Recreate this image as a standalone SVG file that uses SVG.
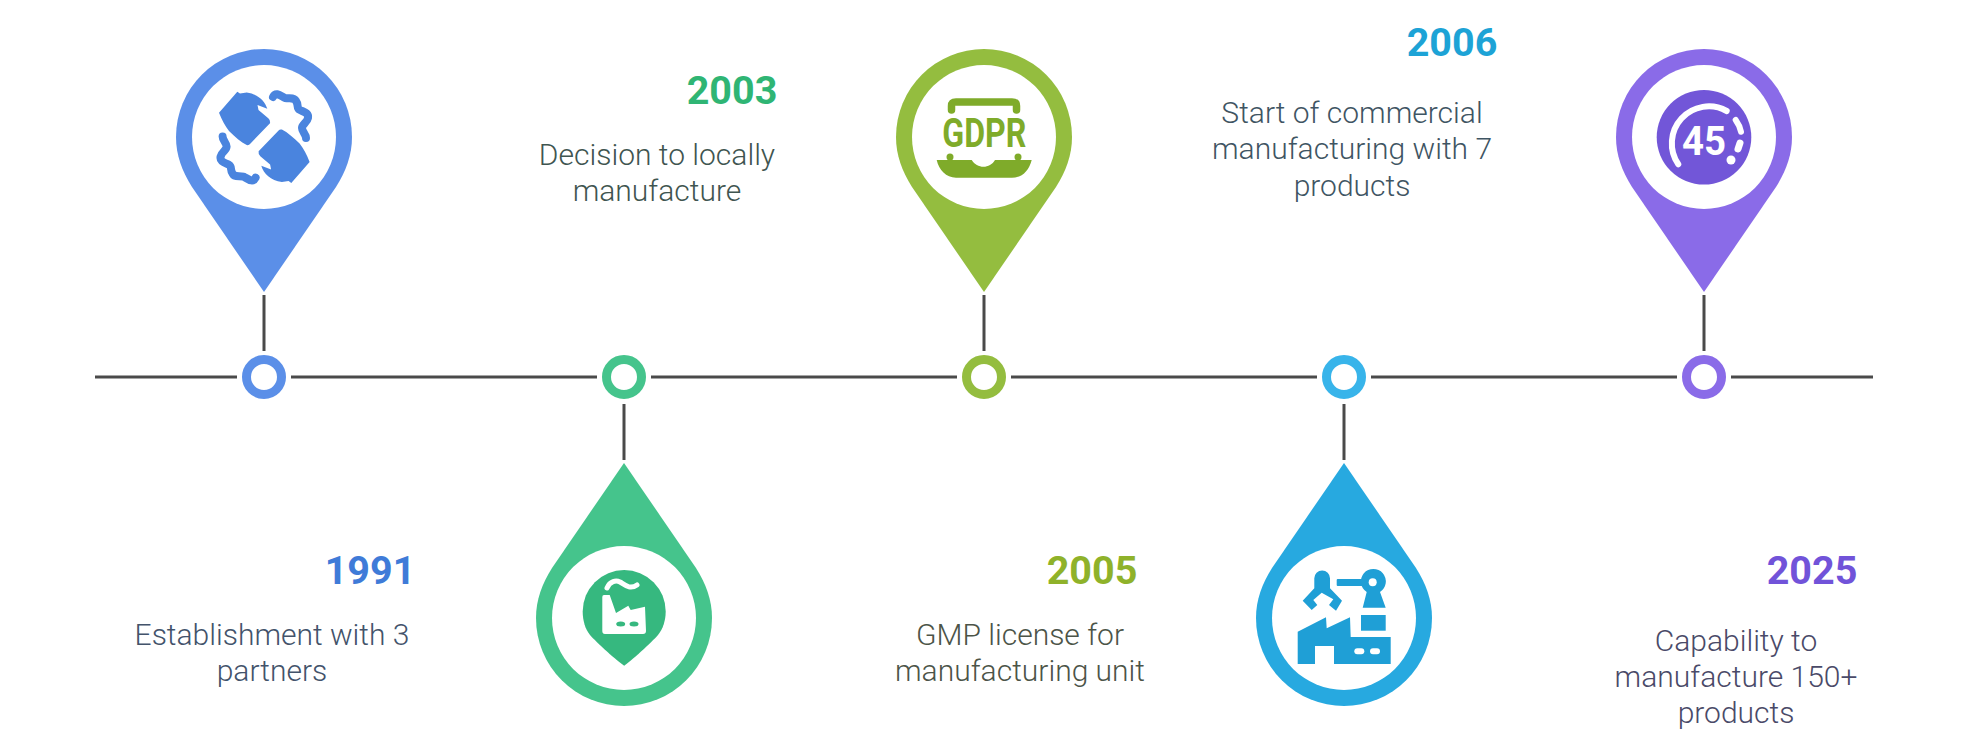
<svg xmlns="http://www.w3.org/2000/svg" width="1968" height="748" viewBox="0 0 1968 748">
<style>
.axis{stroke:#4a4a4a;stroke-width:3;fill:none}
.t{font-family:Roboto,"Liberation Sans",sans-serif;font-size:30px;font-weight:300;text-anchor:middle}
.y{font-family:Roboto,"Liberation Sans",sans-serif;font-size:39.5px;font-weight:700;text-anchor:middle}
.w{fill:#fff}
.i{font-family:Roboto,"Liberation Sans",sans-serif;font-weight:700;text-anchor:middle}
.dot{fill:#fff;stroke-width:9}
</style>
<defs>
<path id="pinUp" d="M0 155 L-72 50 C-82 34 -88 18 -88 0 A88 88 0 0 1 88 0 C88 18 82 34 72 50 Z"/>
<path id="pinDown" d="M0 -155 L-72 -50 C-82 -34 -88 -18 -88 0 A88 88 0 0 0 88 0 C88 -18 82 -34 72 -50 Z"/>
<g id="tw">
<path fill="#4a84de" d="M237.3 91.7 L219 112.7 C222 120 225 126 229 131 C235 137 241 142 246.7 145 Q249 145.5 250 144 L270 123.3 Q270.5 120 268.3 118.3 L258.5 110 L257.5 105 L267.3 108.8 C265 101 258 94 246.7 92.5 L240 93.5 Z"/>
<path fill="none" stroke="#4a84de" stroke-width="8" stroke-linecap="round" stroke-linejoin="round" d="M273 97 C276 91 281 96 285 98 C290 99 294 97 296 101 C299 105 296 108 300 110 C304 112 309 113 308 118 C307 123 302 124 302 128 C302 132 306 134 306 138"/>
</g>
</defs>
<rect width="1968" height="748" fill="#fff"/>
<g id="connectors" class="axis">
<path d="M95 377H237M291 377H597M651 377H957M1011 377H1317M1371 377H1677M1731 377H1873"/>
<path d="M264 295V351M984 295V351M1704 295V351M624 404V460M1344 404V460"/>
</g>
<g id="node-1991">
<use href="#pinUp" x="264" y="137" fill="#5b8fe8"/><circle cx="264" cy="137" r="72" class="w"/>
<use href="#tw"/><use href="#tw" transform="rotate(180 264.3 137.3)"/>
</g>
<g id="node-2003">
<use href="#pinDown" x="624" y="618" fill="#45c48c"/><circle cx="624" cy="618" r="72" class="w"/>
<path d="M624.2 665.7 C618 662 596 642 590 635 C585 629 582.7 620 582.7 611.5 A41.5 41.5 0 0 1 665.7 611.5 C665.7 620 663 629 658 635 C652 642 630 662 624.2 665.7Z" fill="#36b87f"/>
<path d="M602.3 597 Q602.3 595 604 595 H609.7 L616 613 L628.3 605.7 L630.7 610 L645 606.7 L646 631 Q646 634 643 634 H605 Q602.3 634 602.3 631 Z" class="w"/>
<path d="M607 588 C610 581 616 580 620 582 C625 585 630 590 637 585" fill="none" stroke="#fff" stroke-width="5" stroke-linecap="round"/>
<ellipse cx="620.7" cy="624" rx="4.5" ry="2.5" fill="#36b87f"/><ellipse cx="634" cy="624" rx="4.5" ry="2.5" fill="#36b87f"/>
</g>
<g id="node-2005">
<use href="#pinUp" x="984" y="137" fill="#94bd3f"/><circle cx="984" cy="137" r="72" class="w"/>
<path d="M951.5 110 V106 Q951.5 102 956 102 H1012 Q1016.5 102 1016.5 106 V110" fill="none" stroke="#7fab2a" stroke-width="7.5" stroke-linecap="round"/>
<text class="i" x="984.3" y="147" font-size="41" fill="#7fab2a" textLength="84" lengthAdjust="spacingAndGlyphs">GDPR</text>
<path d="M936.7 160 H971.7 C977 169 990 169 995 160 H1031.7 C1029 170 1023 177.7 1012 177.7 H956 C946 177.7 939 170 936.7 160 Z" fill="#7fab2a"/>
<circle cx="950" cy="157" r="3.5" fill="#7fab2a"/><circle cx="1018" cy="157" r="3.5" fill="#7fab2a"/>
</g>
<g id="node-2006">
<use href="#pinDown" x="1344" y="618" fill="#27a9e0"/><circle cx="1344" cy="618" r="72" class="w"/>
<g fill="#1f9fd6">
<path d="M1297.7 631.7 L1326 617.3 L1326.7 628.3 L1350 617.3 L1350.7 637 H1390.7 V664 H1334 V646 H1315 V664 H1297.7 Z"/>
<rect x="1361" y="615" width="24.7" height="15.7"/>
<rect x="1336.7" y="579" width="30" height="7" rx="1"/>
<path d="M1362.7 607.7 L1366.7 592 A12.5 12.5 0 1 1 1380 592 L1385.7 607.7 Z"/>
<path d="M1314.3 578.3 A7.85 7.85 0 0 1 1330 578.3 V588.3 L1342 600.7 L1336 610.7 L1329 605 L1333.3 599.3 L1321.7 592.7 L1313.3 600 L1317.3 605 L1311.7 610 L1302.7 600.7 L1314.3 588.3 Z"/>
</g>
<circle cx="1372.7" cy="582.3" r="4" class="w"/>
<rect x="1354.3" y="648.3" width="10" height="6" rx="3" class="w"/><rect x="1370" y="648.3" width="10" height="6" rx="3" class="w"/>
</g>
<g id="node-2025">
<use href="#pinUp" x="1704" y="137" fill="#8a6be8"/><circle cx="1704" cy="137" r="72" class="w"/>
<circle cx="1704" cy="137.3" r="47.3" fill="#7256d8"/>
<path d="M1678.3 164.3 A37 37 0 0 1 1726.7 111" fill="none" stroke="#fff" stroke-width="6" stroke-linecap="round"/>
<path d="M1735.7 120 Q1740 126 1741 131.7" fill="none" stroke="#fff" stroke-width="6" stroke-linecap="round"/>
<path d="M1740 143 L1738 149" fill="none" stroke="#fff" stroke-width="7" stroke-linecap="round"/>
<circle cx="1731" cy="160" r="4.5" class="w"/>
<text class="i" x="1704" y="155" font-size="41" fill="#fff" textLength="44" lengthAdjust="spacingAndGlyphs">45</text>
</g>
<g id="dot-1991"><circle class="dot" cx="264" cy="377" r="17.5" stroke="#5b8fe8"/></g>
<g id="dot-2003"><circle class="dot" cx="624" cy="377" r="17.5" stroke="#45c48c"/></g>
<g id="dot-2005"><circle class="dot" cx="984" cy="377" r="17.5" stroke="#94bd3f"/></g>
<g id="dot-2006"><circle class="dot" cx="1344" cy="377" r="17.5" stroke="#38b4ea"/></g>
<g id="dot-2025"><circle class="dot" cx="1704" cy="377" r="17.5" stroke="#8a6be8"/></g>
<g id="label-1991" fill="#43536b"><text class="y" x="370" y="584" fill="#3f7bd8">1991</text><text class="t" x="272" y="645">Establishment with 3</text><text class="t" x="272" y="681">partners</text></g>
<g id="label-2003" fill="#3f5550"><text class="y" x="732" y="104" fill="#2fb574">2003</text><text class="t" x="657" y="165">Decision to locally</text><text class="t" x="657" y="201">manufacture</text></g>
<g id="label-2005" fill="#4c5448"><text class="y" x="1092" y="584" fill="#8fb22a">2005</text><text class="t" x="1020" y="645">GMP license for</text><text class="t" x="1020" y="681">manufacturing unit</text></g>
<g id="label-2006" fill="#3f5563"><text class="y" x="1452" y="56" fill="#1da3d6">2006</text><text class="t" x="1352" y="123">Start of commercial</text><text class="t" x="1352" y="159">manufacturing with 7</text><text class="t" x="1352" y="196">products</text></g>
<g id="label-2025" fill="#4a4a68"><text class="y" x="1812" y="584" fill="#7153d9">2025</text><text class="t" x="1736" y="651">Capability to</text><text class="t" x="1736" y="687">manufacture 150+</text><text class="t" x="1736" y="723">products</text></g>
</svg>
